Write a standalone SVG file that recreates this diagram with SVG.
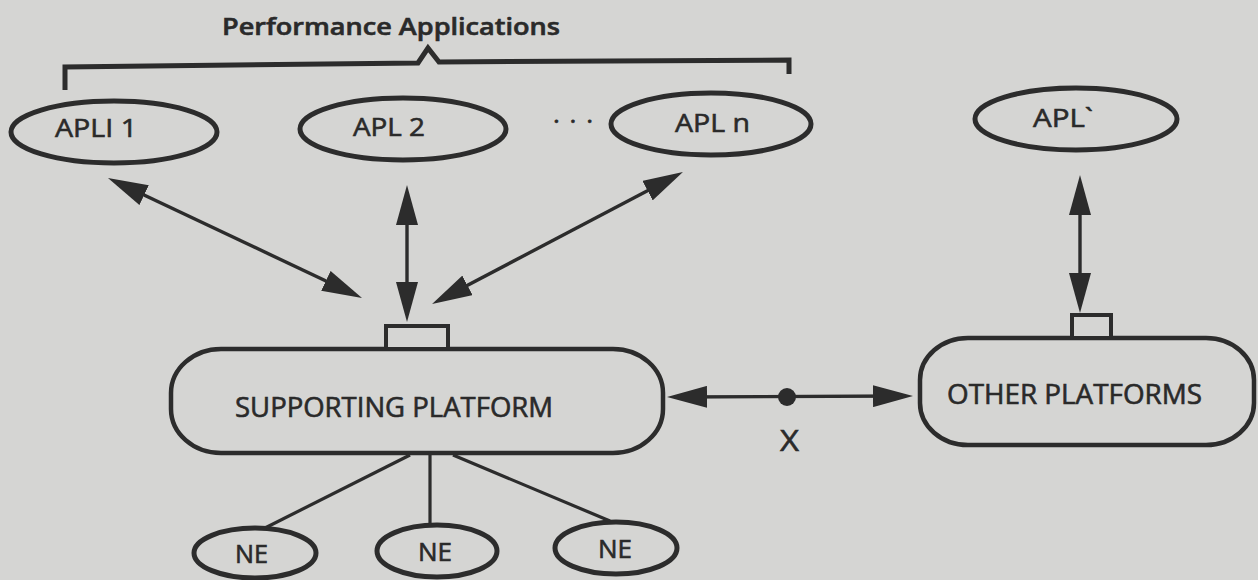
<svg xmlns="http://www.w3.org/2000/svg" width="1258" height="580" viewBox="0 0 1258 580">
  <style>
    .bg { fill: #d5d5d3; }
    .ell { fill: none; stroke: #2c2c2c; stroke-width: 5; }
    .plat { fill: none; stroke: #2c2c2c; stroke-width: 4.5; }
    .port { fill: #d5d5d3; stroke: #2c2c2c; stroke-width: 4; }
    .lbl { font-family: "Open Sans", "Liberation Sans", sans-serif; fill: #2a2a2a; stroke: #2a2a2a; stroke-width: 0.6; }
    .arrow { fill: none; stroke: #2c2c2c; stroke-width: 3.4; marker-start: url(#head); marker-end: url(#head); }
    .link { fill: none; stroke: #2c2c2c; stroke-width: 3.2; }
    .brace { fill: none; stroke: #2c2c2c; stroke-width: 5; stroke-linejoin: miter; }
  </style>
  <defs>
    <marker id="head" viewBox="0 -11 40 22" markerWidth="40" markerHeight="22" refX="30" refY="0" markerUnits="userSpaceOnUse" orient="auto-start-reverse">
      <path d="M0,-11 L40,0 L0,11 Z" fill="#2c2c2c"/>
    </marker>
  </defs>

  <rect class="bg" x="0" y="0" width="1258" height="580"/>

  <!-- group heading with its bracket -->
  <g id="performance-applications">
    <text class="lbl" x="222" y="35" font-size="24" font-weight="600" textLength="338" lengthAdjust="spacingAndGlyphs">Performance Applications</text>
    <path class="brace" d="M65,90 L65,67 L418,63 L428,48 L439,62 L789,60 L789,74"/>
  </g>

  <g id="apl1">
    <ellipse class="ell" cx="114" cy="132" rx="103" ry="31"/>
    <text class="lbl" x="55" y="137" font-size="26" textLength="82" lengthAdjust="spacingAndGlyphs">APLI 1</text>
  </g>

  <g id="apl2">
    <ellipse class="ell" cx="403" cy="129" rx="103" ry="31"/>
    <text class="lbl" x="353" y="136" font-size="26" textLength="72" lengthAdjust="spacingAndGlyphs">APL 2</text>
  </g>

  <g id="ellipsis">
    <text class="lbl" x="553" y="123" font-size="26" textLength="40" lengthAdjust="spacing">. . .</text>
  </g>

  <g id="apln">
    <ellipse class="ell" cx="711" cy="124" rx="100" ry="31"/>
    <text class="lbl" x="675" y="132" font-size="26" textLength="75" lengthAdjust="spacingAndGlyphs">APL n</text>
  </g>

  <g id="apl-prime">
    <ellipse class="ell" cx="1076" cy="119" rx="101" ry="31"/>
    <text class="lbl" x="1033" y="127" font-size="26" textLength="60" lengthAdjust="spacingAndGlyphs">APL`</text>
  </g>

  <g id="supporting-platform">
    <rect class="plat" x="171" y="349" width="492" height="104" rx="50" ry="44"/>
    <rect class="port" x="386" y="326" width="62" height="23"/>
    <text class="lbl" x="235" y="417" font-size="27" textLength="318" lengthAdjust="spacingAndGlyphs">SUPPORTING PLATFORM</text>
  </g>

  <g id="other-platforms">
    <rect class="plat" x="920" y="338" width="334" height="107" rx="48" ry="42"/>
    <rect class="port" x="1072" y="315" width="39" height="23"/>
    <text class="lbl" x="947" y="404" font-size="27" textLength="255" lengthAdjust="spacingAndGlyphs">OTHER PLATFORMS</text>
  </g>

  <g id="ne1">
    <ellipse class="ell" cx="255" cy="553" rx="61" ry="25"/>
    <text class="lbl" x="235" y="563" font-size="25" textLength="33" lengthAdjust="spacingAndGlyphs">NE</text>
  </g>

  <g id="ne2">
    <ellipse class="ell" cx="437" cy="551" rx="60" ry="26"/>
    <text class="lbl" x="418" y="561" font-size="25" textLength="34" lengthAdjust="spacingAndGlyphs">NE</text>
  </g>

  <g id="ne3">
    <ellipse class="ell" cx="616" cy="548" rx="61" ry="26"/>
    <text class="lbl" x="598" y="558" font-size="25" textLength="34" lengthAdjust="spacingAndGlyphs">NE</text>
  </g>

  <!-- connectors -->
  <g id="connectors">
    <line class="arrow" x1="117" y1="182.3" x2="353" y2="293.7"/>
    <line class="arrow" x1="407" y1="195" x2="407" y2="312"/>
    <line class="arrow" x1="674.1" y1="176.7" x2="440.9" y2="299.3"/>
    <line class="arrow" x1="1080" y1="185" x2="1080" y2="303"/>
    <line class="arrow" x1="677" y1="397" x2="903" y2="396"/>
    <circle cx="787" cy="397" r="9" fill="#2c2c2c"/>
    <text class="lbl" x="780" y="451" font-size="29" textLength="19" lengthAdjust="spacingAndGlyphs">X</text>
    <line class="link" x1="410" y1="455" x2="265" y2="528"/>
    <line class="link" x1="430" y1="455" x2="430" y2="525"/>
    <line class="link" x1="453" y1="455" x2="610" y2="521"/>
  </g>
</svg>
